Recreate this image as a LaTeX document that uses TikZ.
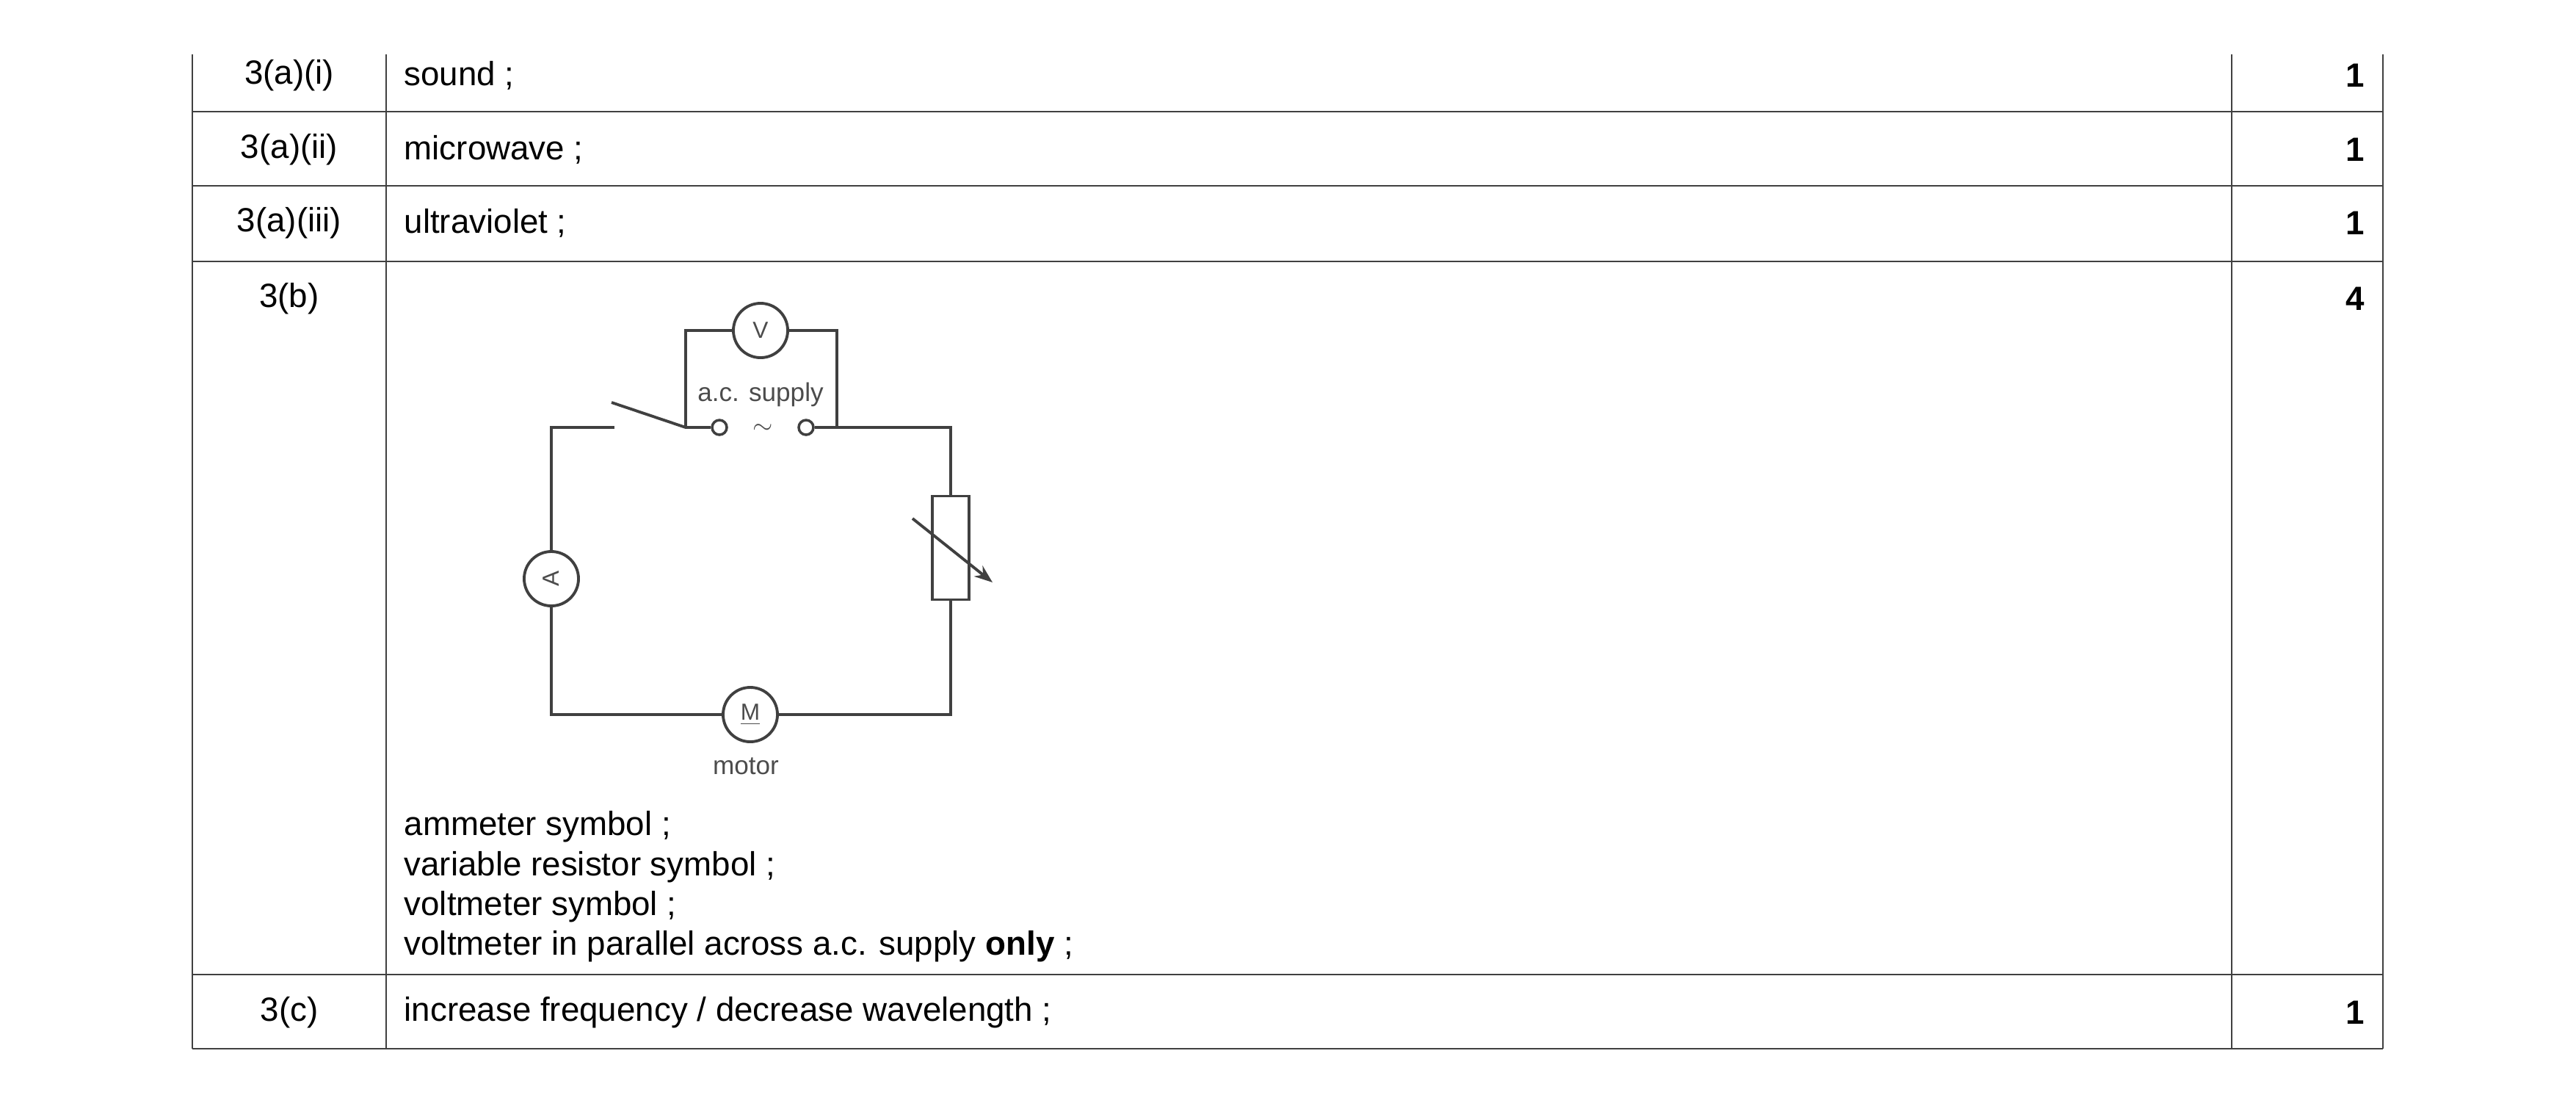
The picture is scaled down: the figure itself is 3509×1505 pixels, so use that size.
\documentclass[tikz,border=0pt]{standalone}
\usepackage{fontspec}
\setmainfont{Liberation Sans}
\usetikzlibrary{arrows.meta}
\begin{document}
\begin{tikzpicture}[x=0.01cm,y=-0.01cm]
        \tikzstyle{grid} = [draw=black!75,line width=.8]
        \tikzstyle{cell} = [anchor=west,font=\fontsize{13}{15.4}\selectfont,inner sep=0]
        \tikzstyle{num} = [anchor=center,font=\fontsize{13}{15.4}\selectfont,inner sep=0]
        \tikzstyle{score} = [anchor=east,font=\fontsize{13}{15.4}\selectfont\bfseries,inner sep=0]
        \tikzstyle{wire} = [draw=black!75,line width=1.1]
        \tikzstyle{meter} = [circle,draw=black!75,line width=1.1,fill=white,minimum size=.74cm,inner sep=0,font=\fontsize{9}{10}\selectfont,text=black!70]
        \tikzstyle{lbl} = [font=\fontsize{10}{12}\selectfont,text=black!70,inner sep=0]
        \useasboundingbox (0,0) rectangle (3509,1505);
        % table
        \draw[grid] (262,74) -- (262,1428) (526,74) -- (526,1428) (3040,74) -- (3040,1428) (3246,74) -- (3246,1428);
        \draw[grid] (262,152) -- (3246,152) (262,253) -- (3246,253) (262,356) -- (3246,356) (262,1327) -- (3246,1327) (262,1428) -- (3246,1428);
        \node[num] (q1) at (394,103) {3(a)(i)};
        \node[num] (q2) at (394,204) {3(a)(ii)};
        \node[num] (q3) at (394,304) {3(a)(iii)};
        \node[num] (q4) at (394,407) {3(b)};
        \node[num] (q5) at (394,1379) {3(c)};
        \node[cell] (a1) at (550,103) {sound ;};
        \node[cell] (a2) at (550,204) {microwave ;};
        \node[cell] (a3) at (550,304) {ultraviolet ;};
        \node[cell] (a5) at (550,1379) {increase frequency / decrease wavelength ;};
        \node[cell,anchor=north west,align=left] (a4) at (550,1104) {ammeter symbol ;\\variable resistor symbol ;\\voltmeter symbol ;\\voltmeter in parallel across a.c. supply \textbf{only} ;};
        \node[score] (m1) at (3222,103) {1};
        \node[score] (m2) at (3222,204) {1};
        \node[score] (m3) at (3222,304) {1};
        \node[score] (m4) at (3222,407) {4};
        \node[score] (m5) at (3222,1379) {1};
        % circuit
        \coordinate (tl) at (751,582);
        \coordinate (tr) at (1295,582);
        \coordinate (bl) at (751,973);
        \coordinate (br) at (1295,973);
        \coordinate (sw) at (837,582);
        \coordinate (swtip) at (833,548);
        \coordinate (vl) at (934,582);
        \coordinate (vr) at (1140,582);
        \node[circle,draw=black!75,line width=1,fill=white,minimum size=.2cm,inner sep=0] (t1) at (980,582) {};
        \node[circle,draw=black!75,line width=1,fill=white,minimum size=.2cm,inner sep=0] (t2) at (1098,582) {};
        \node[lbl] (tilde) at (1039,584) {$\sim$};
        \node[lbl] (acs) at (1036,537) {a.c. supply};
        \node[meter] (volt) at (1036,450) {V};
        \node[meter] (amm) at (751,788) {\rotatebox{90}{A}};
        \node[meter] (mot) at (1022,973) {\underline{M}};
        \node[lbl] (motl) at (1016,1043) {motor};
        \node[rectangle,draw=black!75,line width=1.1,minimum width=.5cm,minimum height=1.41cm,inner sep=0] (res) at (1295,746) {};
        \coordinate (arrs) at (1243,706);
        \coordinate (arre) at (1352,793);
        \draw[wire] (sw) -- (tl) -- (amm) -- (bl) -- (mot) -- (br) -- (res) -- (tr) -- (t2);
        \draw[wire] (swtip) -- (vl) -- (t1);
        \draw[wire] (vl) |- (volt) -| (vr);
        \draw[wire,-{Stealth[length=7pt]}] (arrs) -- (arre);
    \end{tikzpicture}
\end{document}
